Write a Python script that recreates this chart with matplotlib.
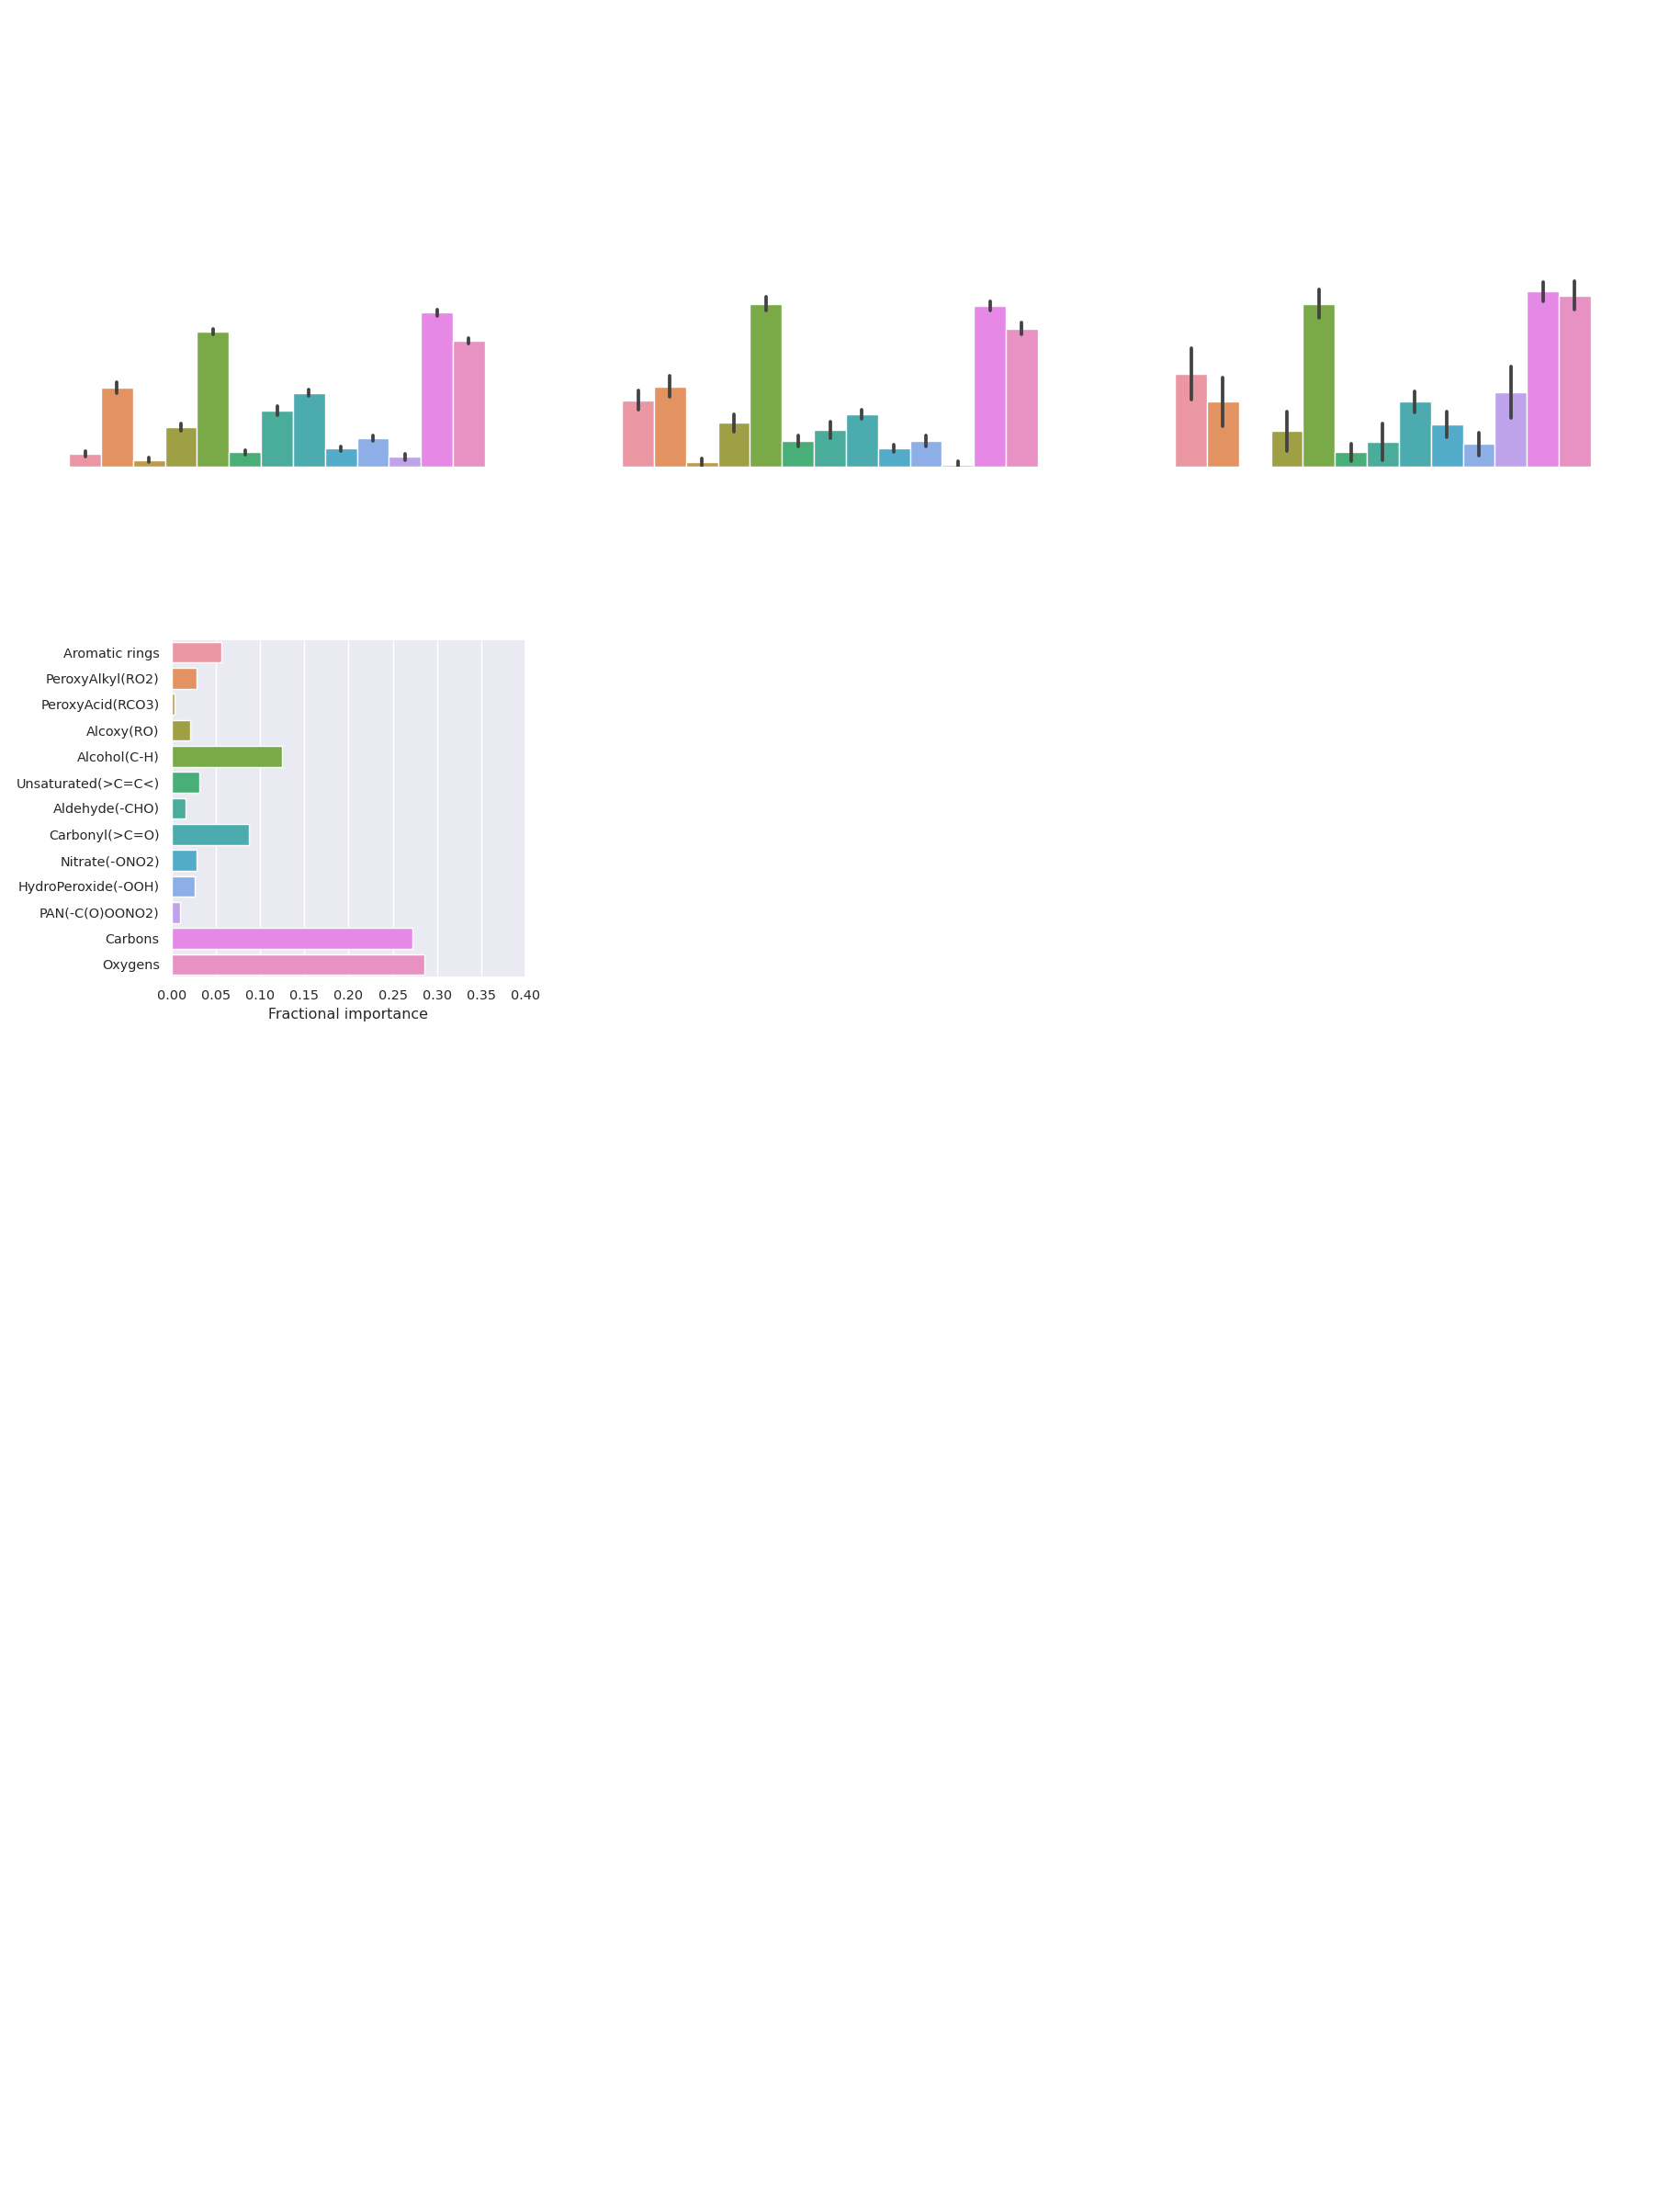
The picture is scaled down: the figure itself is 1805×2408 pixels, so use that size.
import matplotlib
matplotlib.use("Agg")
import matplotlib.pyplot as plt
import numpy as np
import seaborn as sns

features = [
    "Aromatic rings", "PeroxyAlkyl(RO2)", "PeroxyAcid(RCO3)", "Alcoxy(RO)",
    "Alcohol(C-H)", "Unsaturated(>C=C<)", "Aldehyde(-CHO)", "Carbonyl(>C=O)",
    "Nitrate(-ONO2)", "HydroPeroxide(-OOH)", "PAN(-C(O)OONO2)", "Carbons", "Oxygens",
]

# top row: mean importance per feature and half-width of the error bar
imp_1 = [0.017, 0.105, 0.009, 0.052, 0.179, 0.019, 0.074, 0.098, 0.024, 0.038, 0.013, 0.204, 0.167]
err_1 = [0.004, 0.007, 0.003, 0.005, 0.004, 0.003, 0.006, 0.004, 0.003, 0.004, 0.004, 0.004, 0.004]
imp_2 = [0.088, 0.106, 0.006, 0.058, 0.216, 0.034, 0.049, 0.069, 0.024, 0.034, 0.003, 0.213, 0.183]
err_2 = [0.013, 0.014, 0.005, 0.012, 0.009, 0.007, 0.011, 0.006, 0.005, 0.007, 0.004, 0.006, 0.008]
imp_3 = [0.123, 0.086, np.nan, 0.047, 0.216, 0.019, 0.033, 0.086, 0.056, 0.030, 0.099, 0.232, 0.227]
err_3 = [0.034, 0.032, np.nan, 0.026, 0.019, 0.012, 0.024, 0.014, 0.017, 0.015, 0.034, 0.013, 0.019]

# bottom panel: fractional importance
frac_importance = [0.0557, 0.0283, 0.0032, 0.0211, 0.1246, 0.0310, 0.0155,
                   0.0868, 0.0283, 0.0263, 0.0096, 0.2718, 0.2854]

sns.set_theme(style="darkgrid")
# old seaborn categorical default for many levels: husl with l=.7, desaturated
palette = [sns.desaturate(c, 0.75) for c in sns.husl_palette(len(features), l=0.7)]

W, H = 1806, 2408
fig = plt.figure(figsize=(W / 100, H / 100), dpi=100)

# px per unit of importance in the top row
px_per_unit = 821.3
ymax = 0.3
n = len(features)
width = 0.8 / n
offsets = (np.arange(n) - (n - 1) / 2) * width

for left, vals, errs in zip([18.5, 620.5, 1222.5], [imp_1, imp_2, imp_3], [err_1, err_2, err_3]):
    ax = fig.add_axes([left / W, 1 - 508 / H, 566 / W, ymax * px_per_unit / H])
    vals = np.asarray(vals, dtype=float)
    errs = np.asarray(errs, dtype=float)
    ok = ~np.isnan(vals)
    ax.bar(offsets[ok], vals[ok], width, color=[palette[i] for i in np.where(ok)[0]],
           edgecolor="white", linewidth=1)
    for x, v, e in zip(offsets[ok], vals[ok], errs[ok]):
        ax.plot([x, x], [v - e, v + e], color=".26", lw=2.7, solid_capstyle="round")
    ax.set_xlim(-0.5, 0.5)
    ax.set_ylim(0, ymax)
    ax.set_axis_off()

ax = fig.add_axes([187 / W, 1 - 1064 / H, (572 - 187) / W, (1064 - 696) / H])
y = np.arange(n)
ax.barh(y, frac_importance, height=0.8, color=palette, edgecolor="white", linewidth=1)
ax.set_yticks(y, features)
ax.set_ylim(n - 0.5, -0.5)
ax.set_xlim(0, 0.4)
ax.set_xticks(np.arange(0, 0.401, 0.05))
ax.tick_params(labelsize=10.4)
ax.yaxis.grid(False)
ax.set_xlabel("Fractional importance", fontsize=11.4)

fig.savefig("out.png", dpi=100)
